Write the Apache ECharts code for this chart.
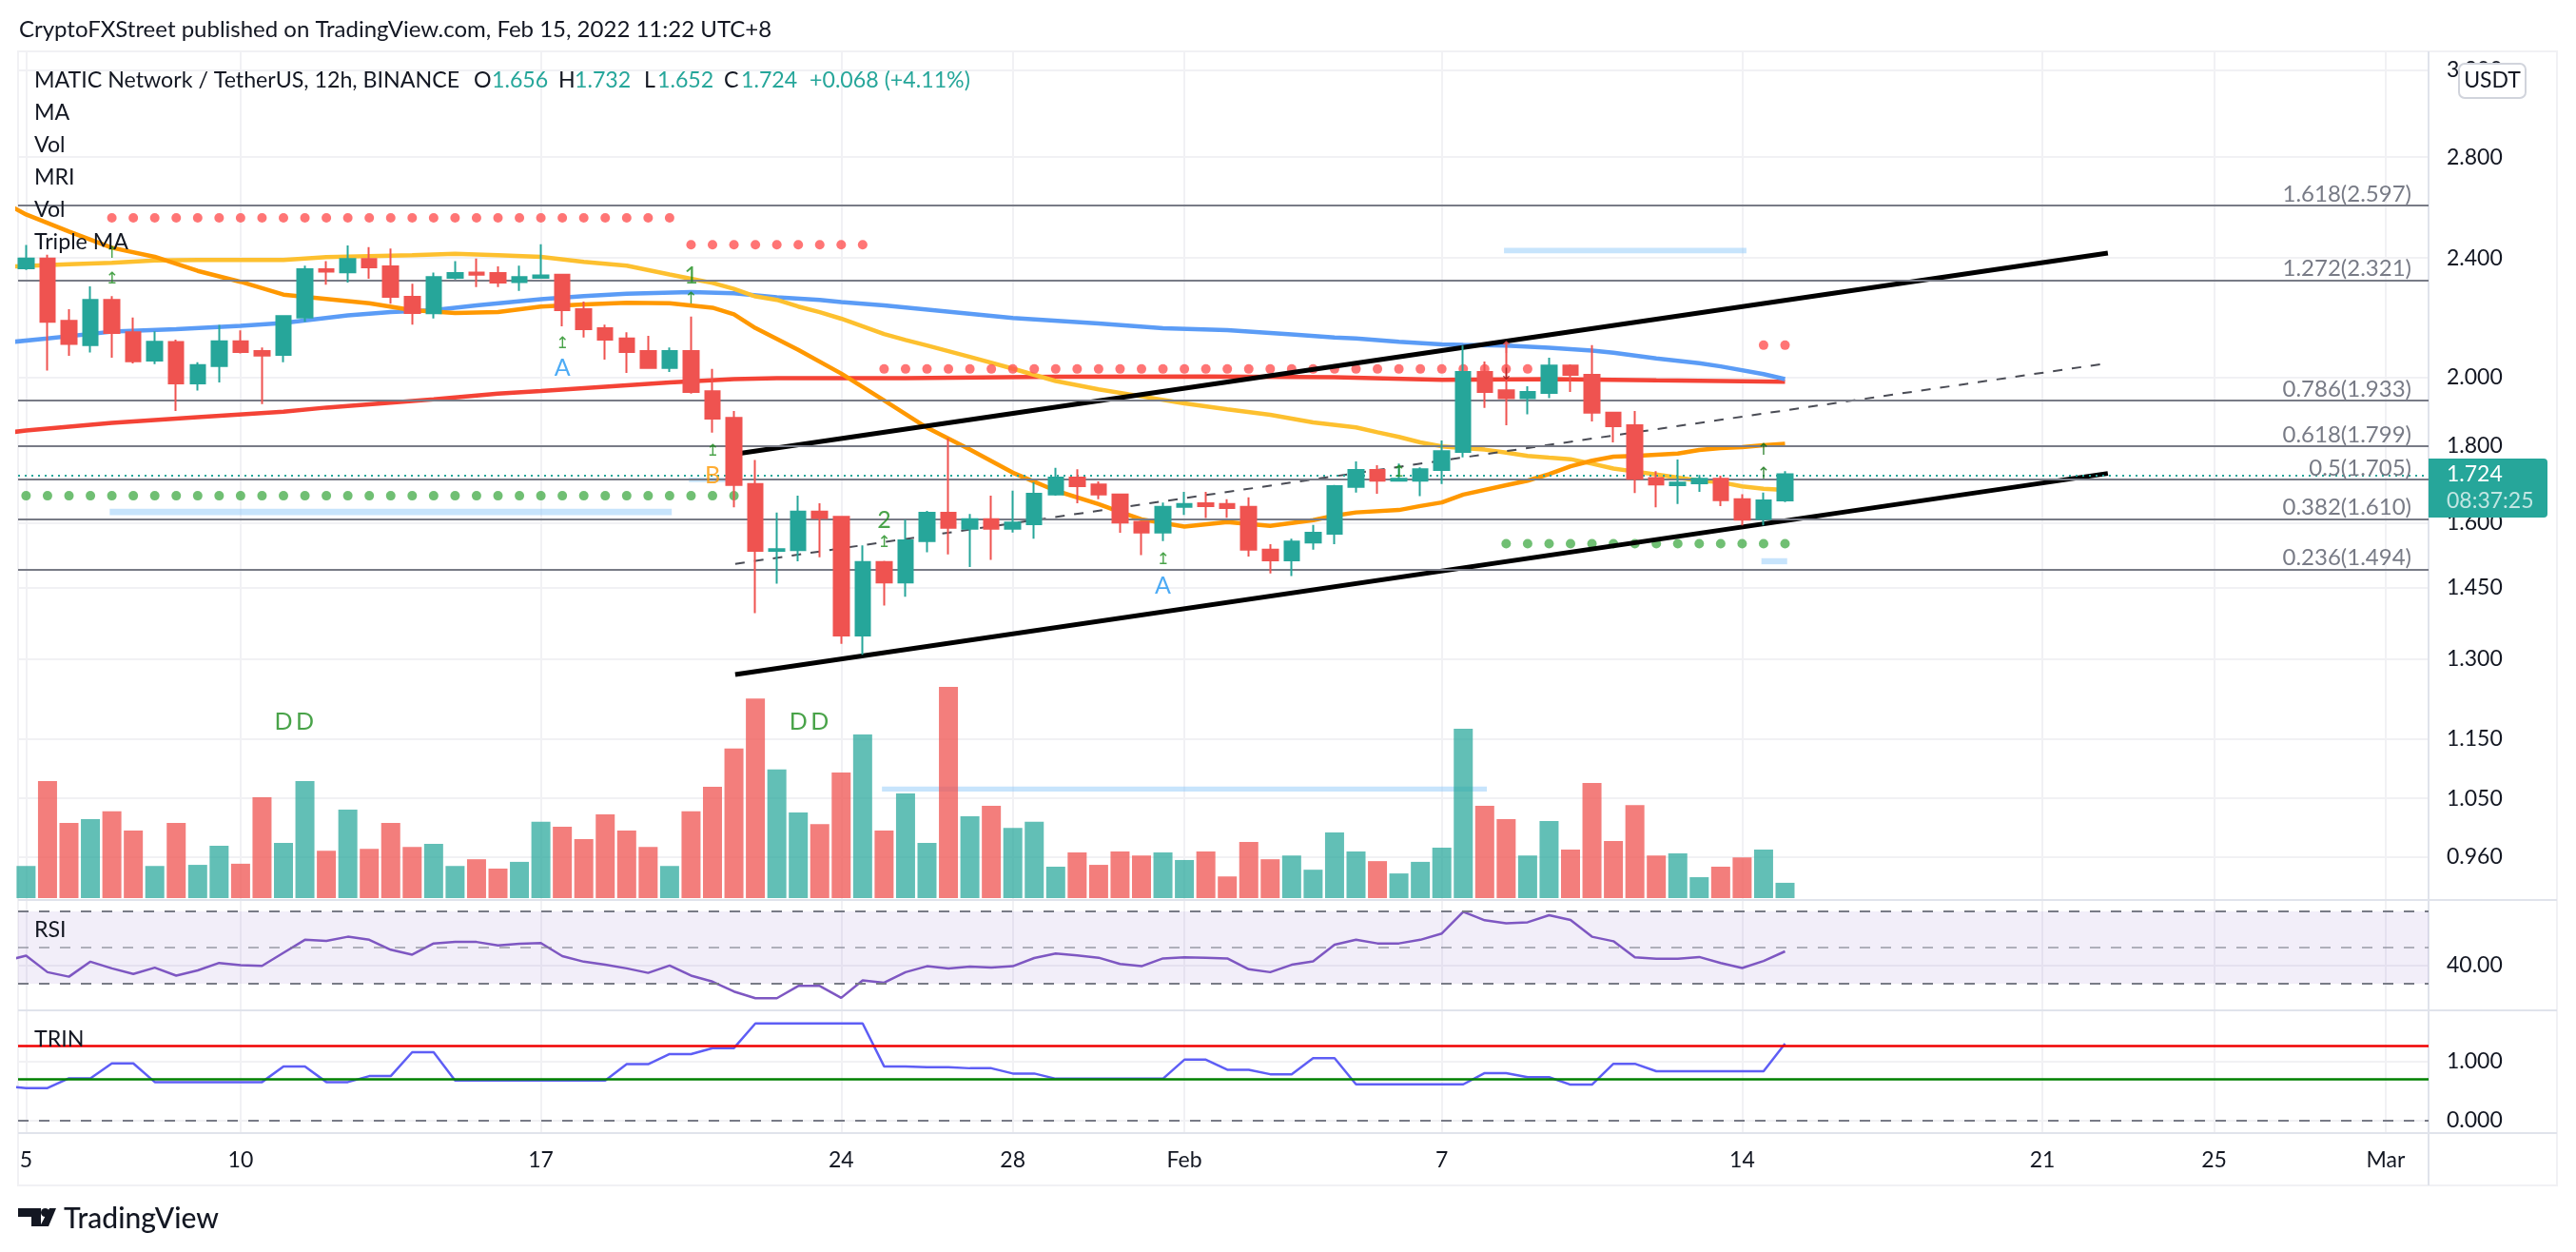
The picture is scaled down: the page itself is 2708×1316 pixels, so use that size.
<!DOCTYPE html>
<html style="height: 100%">
<head>
    <meta charset="utf-8">
    <title>MATIC Network / TetherUS, 12h</title>
    <style>html, body { margin: 0; height: 100%; background: #fff; }</style>
</head>
<body>
<div id="container" style="width: 2708px; height: 1316px;"></div>
<script src="https://cdn.jsdelivr.net/npm/echarts@6/dist/echarts.min.js"></script>
<script type="text/javascript">
    // bar index: 0 = 5 Jan 2022, two bars per day
    var dateTicks = [0, 10, 24, 38, 46, 54, 66, 80, 94, 102, 110];
    var dateLabels = ['5', '10', '17', '24', '28', 'Feb', '7', '14', '21', '25', 'Mar'];
    var priceTicks = [0.96, 1.05, 1.15, 1.3, 1.45, 1.6, 1.8, 2, 2.4, 2.8, 3.2];
    var rsiTicks = [40];
    var trinTicks = [0, 1];

    var candleOpen = [2.362, 2.398, 2.180, 2.100, 2.251, 2.142, 2.051, 2.110, 1.981, 2.034,
        2.113, 2.081, 2.069, 2.191, 2.359, 2.348, 2.396, 2.369, 2.261, 2.205,
        2.328, 2.347, 2.345, 2.313, 2.328, 2.339, 2.219, 2.155, 2.122, 2.081,
        2.028, 2.081, 1.957, 1.879, 1.698, 1.533, 1.535, 1.628, 1.615, 1.347,
        1.507, 1.461, 1.556, 1.625, 1.586, 1.609, 1.586, 1.597, 1.671, 1.715,
        1.697, 1.671, 1.603, 1.577, 1.640, 1.649, 1.647, 1.640, 1.536, 1.511,
        1.553, 1.574, 1.691, 1.735, 1.707, 1.707, 1.735, 1.784, 2.016, 1.960,
        1.937, 1.952, 2.036, 2.007, 1.894, 1.858, 1.714, 1.695, 1.700, 1.712,
        1.659, 1.610, 1.656];
    var candleClose = [2.398, 2.177, 2.104, 2.251, 2.140, 2.049, 2.111, 1.981, 2.037, 2.113,
        2.078, 2.067, 2.196, 2.359, 2.350, 2.396, 2.366, 2.261, 2.206, 2.331,
        2.345, 2.339, 2.311, 2.331, 2.337, 2.216, 2.152, 2.118, 2.078, 2.028,
        2.081, 1.955, 1.877, 1.696, 1.533, 1.537, 1.628, 1.612, 1.347, 1.507,
        1.461, 1.558, 1.625, 1.588, 1.609, 1.586, 1.601, 1.673, 1.715, 1.693,
        1.671, 1.601, 1.577, 1.640, 1.647, 1.642, 1.637, 1.536, 1.511, 1.555,
        1.576, 1.693, 1.735, 1.707, 1.712, 1.737, 1.786, 2.016, 1.955, 1.937,
        1.955, 2.036, 2.007, 1.894, 1.855, 1.712, 1.697, 1.702, 1.712, 1.657,
        1.608, 1.656, 1.724];
    var candleLow = [2.356, 2.020, 2.066, 2.077, 2.060, 2.042, 2.040, 1.899, 1.959, 1.984,
        2.074, 1.919, 2.046, 2.177, 2.304, 2.311, 2.325, 2.238, 2.167, 2.188,
        2.322, 2.295, 2.295, 2.282, 2.326, 2.162, 2.125, 2.054, 2.013, 2.028,
        2.016, 1.950, 1.837, 1.639, 1.394, 1.458, 1.509, 1.518, 1.330, 1.308,
        1.410, 1.429, 1.530, 1.525, 1.496, 1.512, 1.577, 1.562, 1.668, 1.649,
        1.659, 1.576, 1.523, 1.556, 1.620, 1.612, 1.613, 1.520, 1.481, 1.475,
        1.536, 1.549, 1.676, 1.673, 1.706, 1.667, 1.698, 1.769, 1.908, 1.858,
        1.889, 1.937, 1.955, 1.869, 1.810, 1.675, 1.639, 1.647, 1.678, 1.642,
        1.594, 1.594, 1.652];
    var candleHigh = [2.448, 2.412, 2.219, 2.298, 2.264, 2.191, 2.145, 2.118, 2.046, 2.166,
        2.148, 2.093, 2.199, 2.372, 2.388, 2.446, 2.440, 2.435, 2.307, 2.347,
        2.388, 2.398, 2.369, 2.372, 2.451, 2.342, 2.245, 2.167, 2.142, 2.130,
        2.093, 2.194, 2.025, 1.899, 1.762, 1.626, 1.668, 1.649, 1.616, 1.546,
        1.510, 1.608, 1.630, 1.822, 1.622, 1.668, 1.681, 1.703, 1.741, 1.737,
        1.705, 1.673, 1.604, 1.651, 1.678, 1.678, 1.659, 1.664, 1.549, 1.562,
        1.595, 1.696, 1.758, 1.748, 1.752, 1.742, 1.815, 2.099, 2.048, 2.108,
        1.972, 2.060, 2.039, 2.100, 1.897, 1.899, 1.732, 1.763, 1.722, 1.720,
        1.672, 1.676, 1.732];
    var volume = [8.6, 31.3, 20.1, 21.1, 23.2, 18.1, 8.6, 20.1, 8.9, 14.0,
        9.2, 27.0, 14.8, 31.3, 12.7, 23.7, 13.2, 20.1, 13.7, 14.5,
        8.6, 10.4, 7.9, 9.7, 20.4, 19.1, 15.8, 22.4, 18.1, 13.7,
        8.6, 23.2, 29.8, 40.0, 53.4, 34.4, 22.9, 19.8, 33.6, 43.8,
        18.1, 28.0, 14.8, 56.5, 21.9, 24.7, 18.8, 20.4, 8.4, 12.2,
        8.9, 12.5, 11.4, 12.2, 10.2, 12.5, 5.8, 15.0, 10.4, 11.4,
        7.6, 17.6, 12.5, 9.9, 6.6, 9.7, 13.5, 45.3, 24.7, 21.1,
        11.4, 20.6, 13.0, 30.8, 15.3, 24.9, 11.4, 12.0, 5.6, 8.4,
        10.9, 13.0, 4.1];

    // moving averages, [bar, price]
    var maOrange = [[-1, 2.611], [0, 2.565], [2, 2.499], [4, 2.438], [6, 2.404], [8, 2.353], [10, 2.314], [12, 2.269], [14, 2.254], [16, 2.239],
        [18, 2.216], [20, 2.206], [22, 2.209], [24, 2.228], [26, 2.235], [28, 2.241], [30, 2.239], [32, 2.224], [33, 2.202], [34, 2.156],
        [36, 2.085], [38, 2.011], [40, 1.930], [42, 1.851], [44, 1.790], [46, 1.728], [48, 1.681], [50, 1.647], [51, 1.627], [52, 1.609],
        [54, 1.591], [56, 1.602], [58, 1.593], [60, 1.607], [61, 1.618], [62, 1.626], [64, 1.632], [65, 1.642], [66, 1.651], [67, 1.671],
        [69, 1.695], [70, 1.707], [71, 1.724], [72, 1.745], [73, 1.760], [74, 1.771], [75, 1.773], [77, 1.779], [78, 1.789], [79, 1.794],
        [80, 1.797], [81, 1.802], [82, 1.806]];
    var maYellow = [[-1, 2.368], [2, 2.377], [4, 2.382], [6, 2.391], [8, 2.393], [12, 2.393], [14, 2.403], [16, 2.407], [18, 2.410], [20, 2.415],
        [22, 2.410], [24, 2.404], [26, 2.386], [28, 2.372], [30, 2.340], [31, 2.325], [32, 2.310], [33, 2.289], [34, 2.263], [35, 2.251],
        [36, 2.228], [37, 2.209], [38, 2.187], [40, 2.136], [41, 2.117], [42, 2.099], [44, 2.063], [46, 2.026], [48, 1.988], [50, 1.963],
        [52, 1.942], [54, 1.921], [56, 1.904], [58, 1.888], [60, 1.866], [62, 1.852], [63, 1.838], [64, 1.825], [65, 1.810], [66, 1.799],
        [67, 1.794], [68, 1.790], [69, 1.782], [70, 1.773], [71, 1.768], [72, 1.764], [73, 1.752], [74, 1.739], [75, 1.731], [76, 1.723],
        [77, 1.715], [78, 1.707], [79, 1.703], [80, 1.692], [81, 1.686], [82, 1.683]];
    var maBlue = [[-1, 2.108], [1, 2.122], [4, 2.144], [7, 2.152], [10, 2.163], [12, 2.173], [15, 2.198], [17, 2.209], [19, 2.216], [21, 2.232],
        [24, 2.253], [26, 2.264], [28, 2.272], [31, 2.278], [33, 2.274], [35, 2.260], [37, 2.251], [38, 2.243], [40, 2.232], [46, 2.189],
        [50, 2.171], [53, 2.155], [56, 2.149], [59, 2.135], [61, 2.125], [62, 2.122], [64, 2.111], [66, 2.103], [67, 2.101], [69, 2.099],
        [71, 2.092], [73, 2.083], [74, 2.076], [76, 2.058], [78, 2.043], [79, 2.033], [81, 2.009], [82, 1.994]];
    var maRed = [[-1, 1.836], [0, 1.843], [4, 1.865], [8, 1.881], [12, 1.897], [14, 1.909], [17, 1.923], [19, 1.933], [22, 1.950], [24, 1.958],
        [27, 1.971], [30, 1.984], [33, 1.994], [35, 1.997], [41, 1.997], [48, 2.001], [55, 2.002], [61, 2.000], [66, 1.992], [71, 1.994],
        [76, 1.990], [82, 1.986]];

    var fibRatios = ['1.618', '1.272', '0.786', '0.618', '0.5', '0.382', '0.236'];
    var fibPrices = [2.597, 2.321, 1.933, 1.799, 1.705, 1.610, 1.494];
    var lastPrice = 1.724;

    var channelUpper = [[33.06, 1.778], [97.05, 2.418]];
    var channelLower = [[33.06, 1.269], [97.05, 1.726]];
    var channelMid = [[33.06, 1.503], [97.05, 2.043]];

    // [first bar, last bar, price] of each run of dots
    var redDotRuns = [[4, 30, 2.552], [31, 39, 2.449], [40, 70, 2.025], [81, 82, 2.100]];
    var greenDotRuns = [[0, 33, 1.668], [69, 82, 1.550]];

    // [first bar, last bar, low price, high price]
    var zoneBands = [[3.9, 30.1, 1.619, 1.635], [30.9, 32.8, 1.703, 1.715], [68.9, 80.2, 2.417, 2.437],
        [39.9, 68.1, 1.061, 1.069], [80.9, 82.1, 1.502, 1.516]];

    var signalBars = [4, 4, 25, 25, 31, 31, 32, 32, 40, 40, 53, 53, 64, 69, 69, 81, 81, 12, 13, 36, 37];
    var signalPrices = [2.417, 2.322, 2.104, 2.029, 2.334, 2.252, 1.786, 1.720, 1.607, 1.552, 1.513, 1.454, 1.728, 2.090, 2.004, 1.788, 1.723, 1.180, 1.180, 1.180, 1.180];
    var signalTexts = ['↑', '↥', '↥', 'A', '1', '↑', '↥', 'B', '2', '↥', '↥', 'A', '↥', '↑', '↓', '↑', '↑', 'D', 'D', 'D', 'D'];
    var signalColors = ['#1b8c1b', '#1b8c1b', '#1b8c1b', '#2196f3', '#1b8c1b', '#1b8c1b', '#1b8c1b', '#ff9800', '#1b8c1b', '#1b8c1b', '#1b8c1b', '#2196f3', '#1b8c1b', '#ef5350', '#a01818', '#0b6e0b', '#0b6e0b', '#1b8c1b', '#1b8c1b', '#1b8c1b', '#1b8c1b'];

    var rsi = [42.6, 45.5, 36.4, 33.9, 42.2, 38.5, 35.4, 38.9, 34.5, 37.4,
        41.5, 40.3, 39.9, 47.1, 54.3, 53.7, 56.0, 54.3, 48.8, 46.1,
        52.3, 53.1, 53.1, 51.2, 52.1, 52.5, 45.3, 42.2, 40.5, 38.5,
        36.0, 40.1, 34.5, 31.2, 25.7, 22.0, 22.0, 28.8, 28.8, 22.2,
        31.9, 30.6, 36.4, 39.7, 38.5, 39.5, 38.9, 39.7, 44.2, 46.7,
        45.7, 44.4, 40.9, 39.7, 44.0, 44.6, 44.4, 44.0, 38.0, 36.4,
        40.5, 42.4, 51.6, 54.3, 52.3, 52.3, 54.3, 57.8, 69.8, 65.1,
        63.4, 64.0, 67.9, 65.3, 56.0, 53.5, 44.6, 43.8, 43.8, 44.8,
        41.5, 38.7, 42.6, 47.9];
    var rsiLevels = [70, 50, 30];

    var trin = [0.582, 0.551, 0.551, 0.715, 0.715, 0.968, 0.968, 0.652, 0.652, 0.652,
        0.652, 0.652, 0.652, 0.918, 0.918, 0.652, 0.652, 0.753, 0.753, 1.158,
        1.158, 0.677, 0.677, 0.677, 0.677, 0.677, 0.677, 0.677, 0.677, 0.956,
        0.956, 1.127, 1.127, 1.228, 1.228, 1.646, 1.646, 1.646, 1.646, 1.646,
        1.646, 0.918, 0.918, 0.905, 0.905, 0.886, 0.886, 0.797, 0.797, 0.709,
        0.709, 0.709, 0.709, 0.709, 0.709, 1.032, 1.032, 0.861, 0.861, 0.785,
        0.785, 1.057, 1.057, 0.614, 0.614, 0.614, 0.614, 0.614, 0.614, 0.804,
        0.804, 0.734, 0.734, 0.608, 0.608, 0.962, 0.962, 0.835, 0.835, 0.835,
        0.835, 0.835, 0.835, 1.304];
    var trinUpper = 1.272;
    var trinLower = 0.709;

    var legendRows = ['MATIC Network / TetherUS, 12h, BINANCE', 'MA', 'Vol', 'MRI', 'Vol', 'Triple MA'];

    var UP = '#26a69a', DOWN = '#ef5350', GRID = '#f1f1f4', EDGE = '#e0e3eb', FIB = '#787b86', INK = '#131722';
    var FONT = 'Lato, sans-serif';
    var TITLE_SIZE = 24;
    var LEGEND_SIZE = 23.2;
    var AXIS_SIZE = 23;

    function expand(runs) {
        var out = [];
        runs.forEach(function (r) {
            for (var b = r[0]; b <= r[1]; b++) out.push([b, r[2]]);
        });
        return out;
    }

    var candles = candleOpen.map(function (o, i) {
        return [i, o, candleClose[i], candleLow[i], candleHigh[i]];
    });
    var volumeBars = volume.map(function (v, i) {
        return {
            value: [i, v],
            itemStyle: { color: candleClose[i] >= candleOpen[i] ? 'rgba(38,166,154,.72)' : 'rgba(239,83,80,.75)' }
        };
    });
    var signals = signalBars.map(function (b, i) {
        var arrow = signalTexts[i].length === 1 && '↑↓↥'.indexOf(signalTexts[i]) >= 0;
        return {
            value: [b, signalPrices[i]],
            label: { show: true, position: 'inside', formatter: signalTexts[i], color: signalColors[i], fontFamily: arrow ? 'DejaVu Sans' : FONT, fontSize: arrow ? 17 : 25 }
        };
    });

    function xAxisFor(gridIndex, labelled) {
        return {
            type: 'value', gridIndex: gridIndex, min: -0.3725, max: 112,
            axisLine: { show: false },
            axisTick: { show: false, customValues: dateTicks },
            splitLine: { show: true, lineStyle: { color: GRID, width: 2 } },
            axisLabel: {
                show: labelled, customValues: dateTicks, margin: 17, fontFamily: FONT, fontSize: AXIS_SIZE, color: INK,
                formatter: function (v) { return dateLabels[dateTicks.indexOf(v)]; }
            }
        };
    }
    function yAxisFor(gridIndex, min, max, ticks, digits) {
        return {
            type: 'value', gridIndex: gridIndex, position: 'right', min: min, max: max, scale: true,
            axisLine: { show: false },
            axisTick: { show: false, customValues: ticks },
            splitLine: { show: true, lineStyle: { color: GRID, width: 2 } },
            axisLabel: {
                customValues: ticks, margin: 19, fontFamily: FONT, fontSize: AXIS_SIZE, color: INK,
                formatter: function (v) { return v.toFixed(digits); }
            }
        };
    }
    function maSeries(name, data, color) {
        return {
            name: name, type: 'line', data: data, showSymbol: false, z: 3, clip: true, silent: true,
            lineStyle: { color: color, width: 4.5 }
        };
    }
    function channelSeries(name, data, width, type, color) {
        return {
            name: name, type: 'line', data: data, showSymbol: false, z: 4, silent: true,
            lineStyle: { color: color, width: width, type: type }
        };
    }
    function levelLines(values, colors, dash) {
        return {
            silent: true, symbol: ['none', 'none'], animation: false,
            label: { show: false },
            data: values.map(function (v, i) {
                return { yAxis: v, lineStyle: { color: colors[i], width: 2, type: dash } };
            })
        };
    }

    var priceAxis = yAxisFor(0, 0.8987, 3.292, priceTicks, 3);
    priceAxis.type = 'log';
    priceAxis.logBase = Math.E;
    delete priceAxis.scale;

    var legendItems = [
        { t: 'O', x: 498, c: INK }, { t: '1.656', x: 517, c: UP },
        { t: 'H', x: 587, c: INK }, { t: '1.732', x: 604, c: UP },
        { t: 'L', x: 677, c: INK }, { t: '1.652', x: 691, c: UP },
        { t: 'C', x: 761, c: INK }, { t: '1.724', x: 779, c: UP },
        { t: '+0.068 (+4.11%)', x: 851, c: UP }
    ];
    function txt(text, x, y, color, size, align, extra) {
        return {
            type: 'text', x: x, y: y, z: 100, silent: true,
            style: Object.assign({ text: text, fill: color, font: (extra || '') + ' ' + size + 'px ' + FONT, textAlign: align || 'left', textVerticalAlign: 'middle' })
        };
    }
    var graphics = [
        { type: 'rect', z: 1, silent: true, shape: { x: 19, y: 54, width: 2669, height: 1192 }, style: { fill: 'none', stroke: GRID, lineWidth: 2 } },
        { type: 'line', z: 1, silent: true, shape: { x1: 19, y1: 946, x2: 2688, y2: 946 }, style: { stroke: EDGE, lineWidth: 2 } },
        { type: 'line', z: 1, silent: true, shape: { x1: 19, y1: 1062, x2: 2688, y2: 1062 }, style: { stroke: EDGE, lineWidth: 2 } },
        { type: 'line', z: 1, silent: true, shape: { x1: 19, y1: 1191, x2: 2688, y2: 1191 }, style: { stroke: EDGE, lineWidth: 2 } },
        { type: 'line', z: 1, silent: true, shape: { x1: 2553, y1: 54, x2: 2553, y2: 1246 }, style: { stroke: EDGE, lineWidth: 2 } },
        txt('CryptoFXStreet published on TradingView.com, Feb 15, 2022 11:22 UTC+8', 20, 31, INK, TITLE_SIZE),
        txt('RSI', 36, 978, INK, LEGEND_SIZE),
        txt('TRIN', 36, 1093, INK, LEGEND_SIZE),
        // price tag and currency badge
        { type: 'rect', z: 99, silent: true, shape: { x: 2553, y: 482, width: 125, height: 62, r: [0, 4, 4, 0] }, style: { fill: UP } },
        txt('1.724', 2572, 499, '#ffffff', AXIS_SIZE),
        txt('08:37:25', 2572, 527, 'rgba(255,255,255,.72)', AXIS_SIZE),
        { type: 'rect', z: 99, silent: true, shape: { x: 2585, y: 67, width: 70, height: 36, r: 6 }, style: { fill: '#ffffff', stroke: '#d1d4dc', lineWidth: 2 } },
        txt('USDT', 2620, 85, INK, 23, 'center'),
        // logo
        { type: 'polygon', z: 100, silent: true, shape: { points: [[19, 1270], [43, 1270], [43, 1289], [33, 1289], [33, 1279], [19, 1279]] }, style: { fill: INK } },
        { type: 'circle', z: 100, silent: true, shape: { cx: 47.5, cy: 1274.5, r: 4.5 }, style: { fill: INK } },
        { type: 'polygon', z: 100, silent: true, shape: { points: [[52, 1270], [59, 1270], [51, 1289], [42, 1289]] }, style: { fill: INK } },
        txt('TradingView', 67, 1281, INK, 30, 'left', '500')
    ];
    legendRows.forEach(function (t, i) { graphics.push(txt(t, 36, 85 + i * 34, INK, LEGEND_SIZE)); });
    legendItems.forEach(function (it) { graphics.push(txt(it.t, it.x, 85, it.c, LEGEND_SIZE)); });

    var fibLines = levelLines(fibPrices, fibPrices.map(function () { return FIB; }), 'solid');
    fibLines.data.forEach(function (d, i) {
        d.label = {
            show: true, position: 'insideEndTop', formatter: fibRatios[i] + '(' + fibPrices[i].toFixed(3) + ')',
            color: FIB, fontFamily: FONT, fontSize: 24, distance: 0, padding: [0, 18, 0, 0]
        };
    });

    var option = {
        animation: false,
        backgroundColor: '#ffffff',
        graphic: { elements: graphics },
        grid: [
            { left: 19, top: 54, width: 2534, height: 892 },
            { left: 19, top: 946, width: 2534, height: 116 },
            { left: 19, top: 1062, width: 2534, height: 129 }
        ],
        xAxis: [xAxisFor(0, false), xAxisFor(1, false), xAxisFor(2, true)],
        yAxis: [
            priceAxis,
            { type: 'value', gridIndex: 0, min: -0.5, max: 226.5, show: false, splitLine: { show: false } },
            yAxisFor(1, 15.3, 76.3, rsiTicks, 2),
            yAxisFor(2, -0.213, 1.868, trinTicks, 3)
        ],
        series: [
            {
                name: 'Vol', type: 'bar', xAxisIndex: 0, yAxisIndex: 1, data: volumeBars, barWidth: 20, z: 1, silent: true
            },
            {
                name: 'Fib', type: 'line', data: [], z: 2, markLine: fibLines
            },
            {
                name: 'Last', type: 'line', data: [], z: 2,
                markLine: levelLines([lastPrice], [UP], [2, 5])
            },
            {
                name: 'Zones', type: 'line', data: [], z: 2,
                markArea: {
                    silent: true,
                    itemStyle: { color: 'rgba(144,202,249,.5)' },
                    data: zoneBands.map(function (b) {
                        return [{ xAxis: b[0], yAxis: b[3] }, { xAxis: b[1], yAxis: b[2] }];
                    })
                }
            },
            maSeries('MA red', maRed, '#f44336'),
            maSeries('MA blue', maBlue, '#5b9cf6'),
            maSeries('MA yellow', maYellow, '#fdc02f'),
            maSeries('MA orange', maOrange, '#ff9800'),
            {
                name: 'Dots red', type: 'scatter', data: expand(redDotRuns), symbolSize: 10, z: 3, silent: true,
                itemStyle: { color: '#ff5252' }
            },
            {
                name: 'Dots green', type: 'scatter', data: expand(greenDotRuns), symbolSize: 10, z: 3, silent: true,
                itemStyle: { color: '#4caf50' }
            },
            channelSeries('Channel upper', channelUpper, 5, 'solid', '#000000'),
            channelSeries('Channel lower', channelLower, 5, 'solid', '#000000'),
            channelSeries('Channel mid', channelMid, 2, [10, 10], '#4a4c55'),
            {
                name: 'MATICUSDT', type: 'candlestick', data: candles, barWidth: 16, z: 5, silent: true,
                encode: { x: 0, y: [1, 2, 3, 4] },
                itemStyle: { color: UP, color0: DOWN, borderColor: UP, borderColor0: DOWN, borderWidth: 2 }
            },
            {
                name: 'Signals', type: 'scatter', data: signals, symbolSize: 1, z: 6, silent: true,
                itemStyle: { color: 'rgba(0,0,0,0)' }
            },
            {
                name: 'RSI', type: 'line', xAxisIndex: 1, yAxisIndex: 2, showSymbol: false, silent: true, z: 4,
                data: rsi.map(function (v, i) { return [i - 1, v]; }),
                lineStyle: { color: '#7e57c2', width: 2.5 },
                markArea: {
                    silent: true, itemStyle: { color: 'rgba(126,87,194,.1)' },
                    data: [[{ yAxis: rsiLevels[0] }, { yAxis: rsiLevels[2] }]]
                },
                markLine: levelLines(rsiLevels, [FIB, 'rgba(120,123,134,.55)', FIB], [11, 11])
            },
            {
                name: 'TRIN', type: 'line', xAxisIndex: 2, yAxisIndex: 3, showSymbol: false, silent: true, z: 3,
                data: trin.map(function (v, i) { return [i - 1, v]; }),
                lineStyle: { color: '#5e5ef5', width: 2.5 }
            },
            {
                name: 'TRIN levels', type: 'line', xAxisIndex: 2, yAxisIndex: 3, data: [], z: 4,
                markLine: {
                    silent: true, symbol: ['none', 'none'], label: { show: false },
                    data: [
                        { yAxis: trinUpper, lineStyle: { color: '#f00000', width: 2.5, type: 'solid' } },
                        { yAxis: trinLower, lineStyle: { color: '#008000', width: 2.5, type: 'solid' } },
                        { yAxis: 0, lineStyle: { color: FIB, width: 2, type: [11, 11] } }
                    ]
                }
            }
        ]
    };
    var myChart = echarts.init(document.getElementById('container'));
    myChart.setOption(option);
</script>
</body>
</html>
